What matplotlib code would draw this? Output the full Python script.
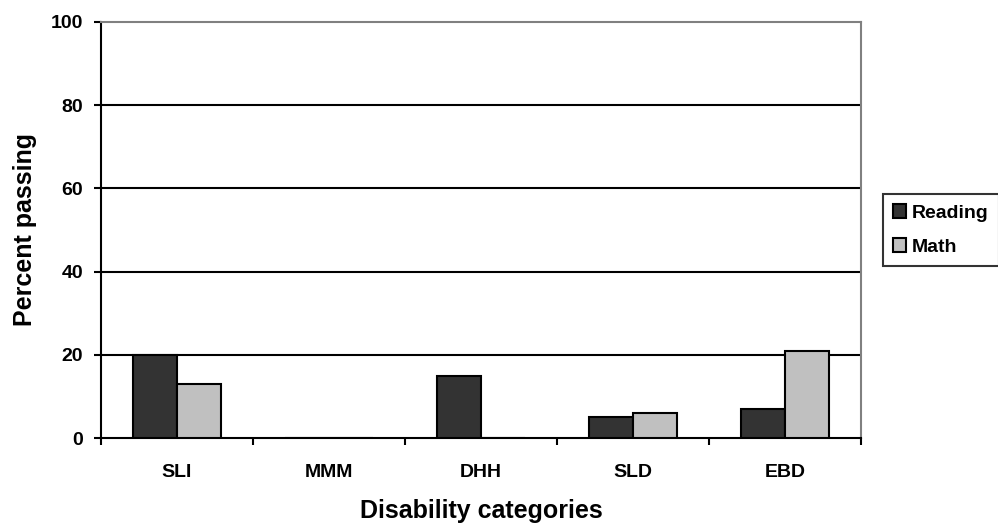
import numpy as np
import matplotlib
matplotlib.use("Agg")
import matplotlib.pyplot as plt

plt.rcParams["font.family"] = ["Liberation Sans", "DejaVu Sans"]
plt.rcParams["font.weight"] = "bold"

categories = ["SLI", "MMM", "DHH", "SLD", "EBD"]
reading = [20, 0, 15, 5, 7]
math = [13, 0, 0, 6, 21]

fig = plt.figure(figsize=(9.98, 5.23), dpi=100)
ax = fig.add_axes([0.1012, 0.1625, 0.7615, 0.7955])

x = np.arange(len(categories))
w = 0.29
ax.bar(x - w / 2, reading, w, color="#333333", edgecolor="black", lw=1.5,
       label="Reading", zorder=3)
ax.bar(x + w / 2, math, w, color="#c0c0c0", edgecolor="black", lw=1.5,
       label="Math", zorder=3)

ax.set_xlim(-0.5, len(categories) - 0.5)
ax.set_ylim(0, 100)
ax.set_yticks(range(0, 101, 20))
for yv in range(20, 100, 20):
    ax.axhline(yv, color="black", lw=1.5, zorder=1)

# category labels centred, tick marks on group boundaries
ax.set_xticks(np.arange(-0.5, len(categories), 1.0))
ax.set_xticklabels([])
ax.set_xticks(x, minor=True)
ax.set_xticklabels(categories, minor=True, fontsize=14, fontweight="bold")
ax.tick_params(axis="x", which="minor", length=0, pad=19)
ax.tick_params(axis="x", which="major", length=5, width=1.5, direction="out")
ax.tick_params(axis="y", length=5, width=1.5, labelsize=14, pad=8)

ax.spines["left"].set_linewidth(1.5)
ax.spines["bottom"].set_linewidth(1.5)
ax.spines["top"].set_color("#808080")
ax.spines["right"].set_color("#808080")
ax.spines["top"].set_linewidth(1.5)
ax.spines["right"].set_linewidth(1.5)

ax.set_ylabel("Percent passing", fontsize=18, fontweight="bold")
ax.set_xlabel("Disability categories", fontsize=18, fontweight="bold")
ax.yaxis.set_label_coords(-0.084, 0.5)
ax.xaxis.set_label_coords(0.5, -0.147)

leg = ax.legend(loc="center left", bbox_to_anchor=(1.029, 0.5), frameon=True,
                fancybox=False, edgecolor="black", fontsize=14,
                handlelength=0.7, handleheight=0.7, handletextpad=0.3,
                borderpad=0.5, labelspacing=0.85, borderaxespad=0)
leg.get_frame().set_linewidth(1.5)

fig.savefig("out.png", dpi=100)
